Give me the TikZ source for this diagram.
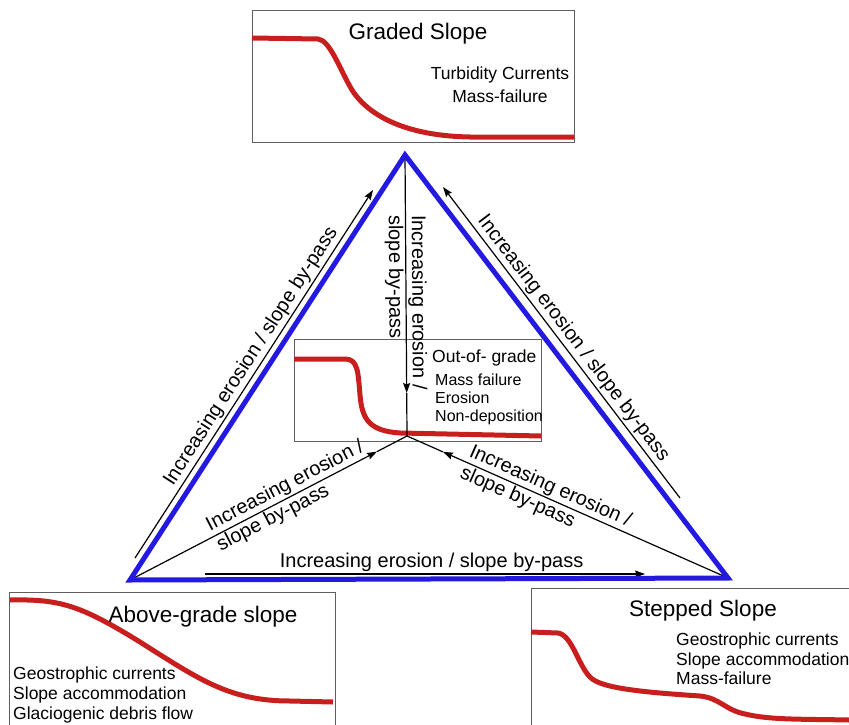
\documentclass[tikz,border=0pt]{standalone}
\usepackage{fontspec}
\setmainfont{Liberation Sans}
\usetikzlibrary{arrows.meta,positioning}

\definecolor{triblue}{RGB}{35,25,225}
\definecolor{slopered}{RGB}{200,30,30}
\definecolor{boxgray}{RGB}{95,95,95}

\begin{document}
\begin{tikzpicture}
    [x=1pt,y=-1pt,>={Stealth[length=10pt,width=7pt,inset=1.5pt]},
        panel/.style={draw=boxgray,line width=0.9pt,inner sep=0pt},
        profile/.style={slopered,line width=5pt},
        side/.style={triblue,line width=5pt},
        flow/.style={->,line width=1.2pt},
        trend/.style={font=\fontsize{20}{23}\selectfont,inner sep=2pt},
        title/.style={font=\fontsize{22.5}{26}\selectfont},
        note/.style={font=\fontsize{17.5}{19.7}\selectfont,align=left,inner sep=1pt}]

    \useasboundingbox (0,0) rectangle (849,725);

    % panels
    \node[panel,minimum width=322pt,minimum height=132pt] (graded) at (413,76) {};
    \node[panel,minimum width=247pt,minimum height=102pt] (outgrade) at (417.5,390) {};
    \node[panel,minimum width=326pt,minimum height=150pt] (above) at (172,667) {};
    \node[panel,minimum width=330pt,minimum height=154pt] (stepped) at (696,665) {};

    % profiles
    \draw[profile] (252,38) -- (318,39) .. controls (330,40) and (340,70) .. (352,90)
        .. controls (370,118) and (410,136) .. (470,137) -- (574,137);
    \draw[profile] (294,359) -- (345,359) .. controls (358,359) and (358,372) .. (360,395)
        .. controls (362,420) and (370,431) .. (400,433) -- (541,436);
    \draw[profile] (10,600) .. controls (60,599) and (80,605) .. (140,642)
        .. controls (200,680) and (230,701) .. (290,701) -- (333,702);
    \draw[profile] (531,632) -- (558,633) .. controls (572,635) and (578,665) .. (590,677)
        .. controls (600,688) and (640,692) .. (700,696) .. controls (720,698) and (725,710) .. (745,714)
        .. controls (770,720) and (800,719) .. (849,720);

    % panel texts
    \node[title] (gradedtitle) at (418,34) {Graded Slope};
    \node[note,align=center,font=\fontsize{17.5}{23}\selectfont] (gradednote) at (500,85) {Turbidity Currents\\Mass-failure};
    \node[note,anchor=west] (ogtitle) at (431,358) {Out-of- grade};
    \node[note,anchor=west,font=\fontsize{16}{18}\selectfont] (ognote) at (434,399) {Mass failure\\Erosion\\Non-deposition};
    \node[title] (abovetitle) at (203,617) {Above-grade slope};
    \node[note,anchor=west] (abovenote) at (12,695) {Geostrophic currents\\Slope accommodation\\Glaciogenic debris flow};
    \node[title] (steppedtitle) at (703,611) {Stepped Slope};
    \node[note,anchor=west] (steppednote) at (675,659) {Geostrophic currents\\Slope accommodation\\Mass-failure};

    % triangle corners and arrow ends
    \coordinate (apexT) at (405,155);
    \coordinate (cornerL) at (130,580);
    \coordinate (cornerR) at (728,578);
    \coordinate (hub) at (407,436);
    \coordinate (vtip) at (406.7,393);
    \coordinate (ltip) at (377,451.6);
    \coordinate (rtip) at (443,451.9);
    \coordinate (ls) at (135,558);
    \coordinate (le) at (373,190);
    \coordinate (rs) at (680,498);
    \coordinate (re) at (443,187);
    \coordinate (bs) at (205,574);
    \coordinate (be) at (645,574);

    \path[flow]
    (apexT) edge node[trend,sloped,align=left,pos=.62] {Increasing erosion /\\slope by-pass} (vtip)
    (cornerL) edge node[trend,sloped,align=left,pos=.65] {Increasing erosion /\\slope by-pass} (ltip)
    (cornerR) edge node[trend,sloped,align=left,pos=.64] {Increasing erosion /\\slope by-pass} (rtip)
    (ls) edge node[trend,sloped,above,pos=.53] {Increasing erosion / slope by-pass} (le)
    (rs) edge node[trend,sloped,above,pos=.49] {Increasing erosion / slope by-pass} (re)
    (bs) edge node[trend,above,pos=.515] {Increasing erosion / slope by-pass} (be)
    ;
    \draw[line width=1.2pt] (vtip) -- (hub) (ltip) -- (hub) (rtip) -- (hub);

    \draw[side] (apexT) -- (cornerL) -- (cornerR) -- cycle;
\end{tikzpicture}
\end{document}
